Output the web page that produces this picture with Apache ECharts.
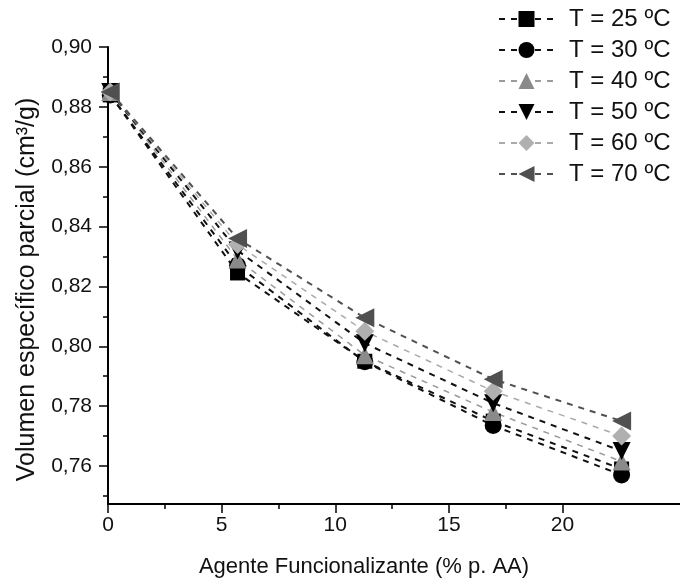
<!DOCTYPE html>
<html>
<head>
<meta charset="utf-8">
<script src="https://cdn.jsdelivr.net/npm/echarts@6/dist/echarts.min.js"></script>
<style>
  html, body { margin: 0; padding: 0; background: #fff; }
  #chart { width: 680px; height: 584px; }
</style>
</head>
<body>
<div id="chart"></div>
<script>
// Sample positions along the x axis (% p. AA)
const xPos = [0.1, 5.7, 11.3, 16.95, 22.6];

// Partial specific volume (cm3/g) per temperature
const t25 = [0.884, 0.8245, 0.795, 0.775, 0.759];
const t30 = [0.884, 0.827, 0.7948, 0.7735, 0.757];
const t40 = [0.885, 0.829, 0.797, 0.778, 0.7615];
const t50 = [0.885, 0.832, 0.801, 0.781, 0.765];
const t60 = [0.885, 0.834, 0.805, 0.785, 0.770];
const t70 = [0.885, 0.836, 0.8095, 0.789, 0.775];

const seriesNames = ['T = 25 ºC', 'T = 30 ºC', 'T = 40 ºC', 'T = 50 ºC', 'T = 60 ºC', 'T = 70 ºC'];

// Axis ticks
const xMajor = [0, 5, 10, 15, 20];
const xMinor = [2.5, 7.5, 12.5, 17.5];
const yMajor = [0.76, 0.78, 0.80, 0.82, 0.84, 0.86, 0.88, 0.90];
const yMinor = [0.75, 0.77, 0.79, 0.81, 0.83, 0.85, 0.87, 0.89];

const FONT = 'Liberation Sans, Arial, sans-serif';
const X_MIN = 0, X_MAX = 25.17, Y_MIN = 0.7473, Y_MAX = 0.90;

function pairs(ys) { return ys.map((y, i) => [xPos[i], y]); }

function makeSeries(name, ys, symbol, rotate, size, fill, lineColor, lineWidth) {
  return {
    name: name,
    type: 'line',
    data: pairs(ys),
    symbol: symbol,
    symbolRotate: rotate,
    symbolSize: size,
    itemStyle: { color: fill, opacity: 1 },
    lineStyle: { color: lineColor, width: lineWidth, type: [6, 6] },
    emphasis: { disabled: true },
    animation: false
  };
}

const chart = echarts.init(document.getElementById('chart'));
chart.setOption({
  backgroundColor: '#ffffff',
  animation: false,
  grid: { left: 108, right: 0, top: 47, bottom: 80, containLabel: false },
  legend: {
    orient: 'vertical',
    left: 493,
    top: 2,
    itemWidth: 55,
    itemHeight: 20,
    itemGap: 7,
    textStyle: { fontFamily: FONT, fontSize: 24, color: '#111', lineHeight: 24, padding: [0, 0, 0, 10] },
    data: seriesNames
  },
  xAxis: [
    {
      type: 'value', min: X_MIN, max: X_MAX,
      name: 'Agente Funcionalizante (% p. AA)',
      nameLocation: 'middle', nameGap: 52,
      nameTextStyle: { fontFamily: FONT, fontSize: 22, color: '#111', padding: [0, 60, 0, 0] },
      axisLine: { show: true, onZero: false, lineStyle: { color: '#000', width: 2 } },
      axisTick: { show: true, length: 9, customValues: xMajor, lineStyle: { color: '#000', width: 1.5 } },
      axisLabel: { customValues: xMajor, fontFamily: FONT, fontSize: 21, color: '#111', margin: 11 },
      splitLine: { show: false }
    },
    {
      type: 'value', min: X_MIN, max: X_MAX, position: 'bottom',
      axisLine: { show: false },
      axisTick: { show: true, length: 5, customValues: xMinor, lineStyle: { color: '#000', width: 1.5 } },
      axisLabel: { show: false },
      splitLine: { show: false }
    }
  ],
  yAxis: [
    {
      type: 'value', min: Y_MIN, max: Y_MAX,
      name: 'Volumen específico parcial (cm³/g)',
      nameLocation: 'middle', nameGap: 68,
      nameTextStyle: { fontFamily: FONT, fontSize: 25, color: '#111', padding: [0, 28, 0, 0] },
      axisLine: { show: true, onZero: false, lineStyle: { color: '#000', width: 2 } },
      axisTick: { show: true, length: 9, customValues: yMajor, lineStyle: { color: '#000', width: 1.5 } },
      axisLabel: {
        customValues: yMajor, fontFamily: FONT, fontSize: 21, color: '#111', margin: 16,
        formatter: v => v.toFixed(2).replace('.', ',')
      },
      splitLine: { show: false }
    },
    {
      type: 'value', min: Y_MIN, max: Y_MAX, position: 'left',
      axisLine: { show: false },
      axisTick: { show: true, length: 5, customValues: yMinor, lineStyle: { color: '#000', width: 1.5 } },
      axisLabel: { show: false },
      splitLine: { show: false }
    }
  ],
  series: [
    makeSeries(seriesNames[0], t25, 'rect', 0, 15, '#000000', '#111111', 2),
    makeSeries(seriesNames[1], t30, 'circle', 0, 17, '#000000', '#111111', 2),
    makeSeries(seriesNames[2], t40, 'triangle', 0, 18, '#8a8a8a', '#9a9a9a', 1.5),
    makeSeries(seriesNames[3], t50, 'triangle', 180, 18, '#000000', '#111111', 2),
    makeSeries(seriesNames[4], t60, 'diamond', 0, 19, '#b0b0b0', '#aaaaaa', 1.5),
    makeSeries(seriesNames[5], t70, 'triangle', 90, 19, '#505050', '#505050', 2)
  ]
});
</script>
</body>
</html>
